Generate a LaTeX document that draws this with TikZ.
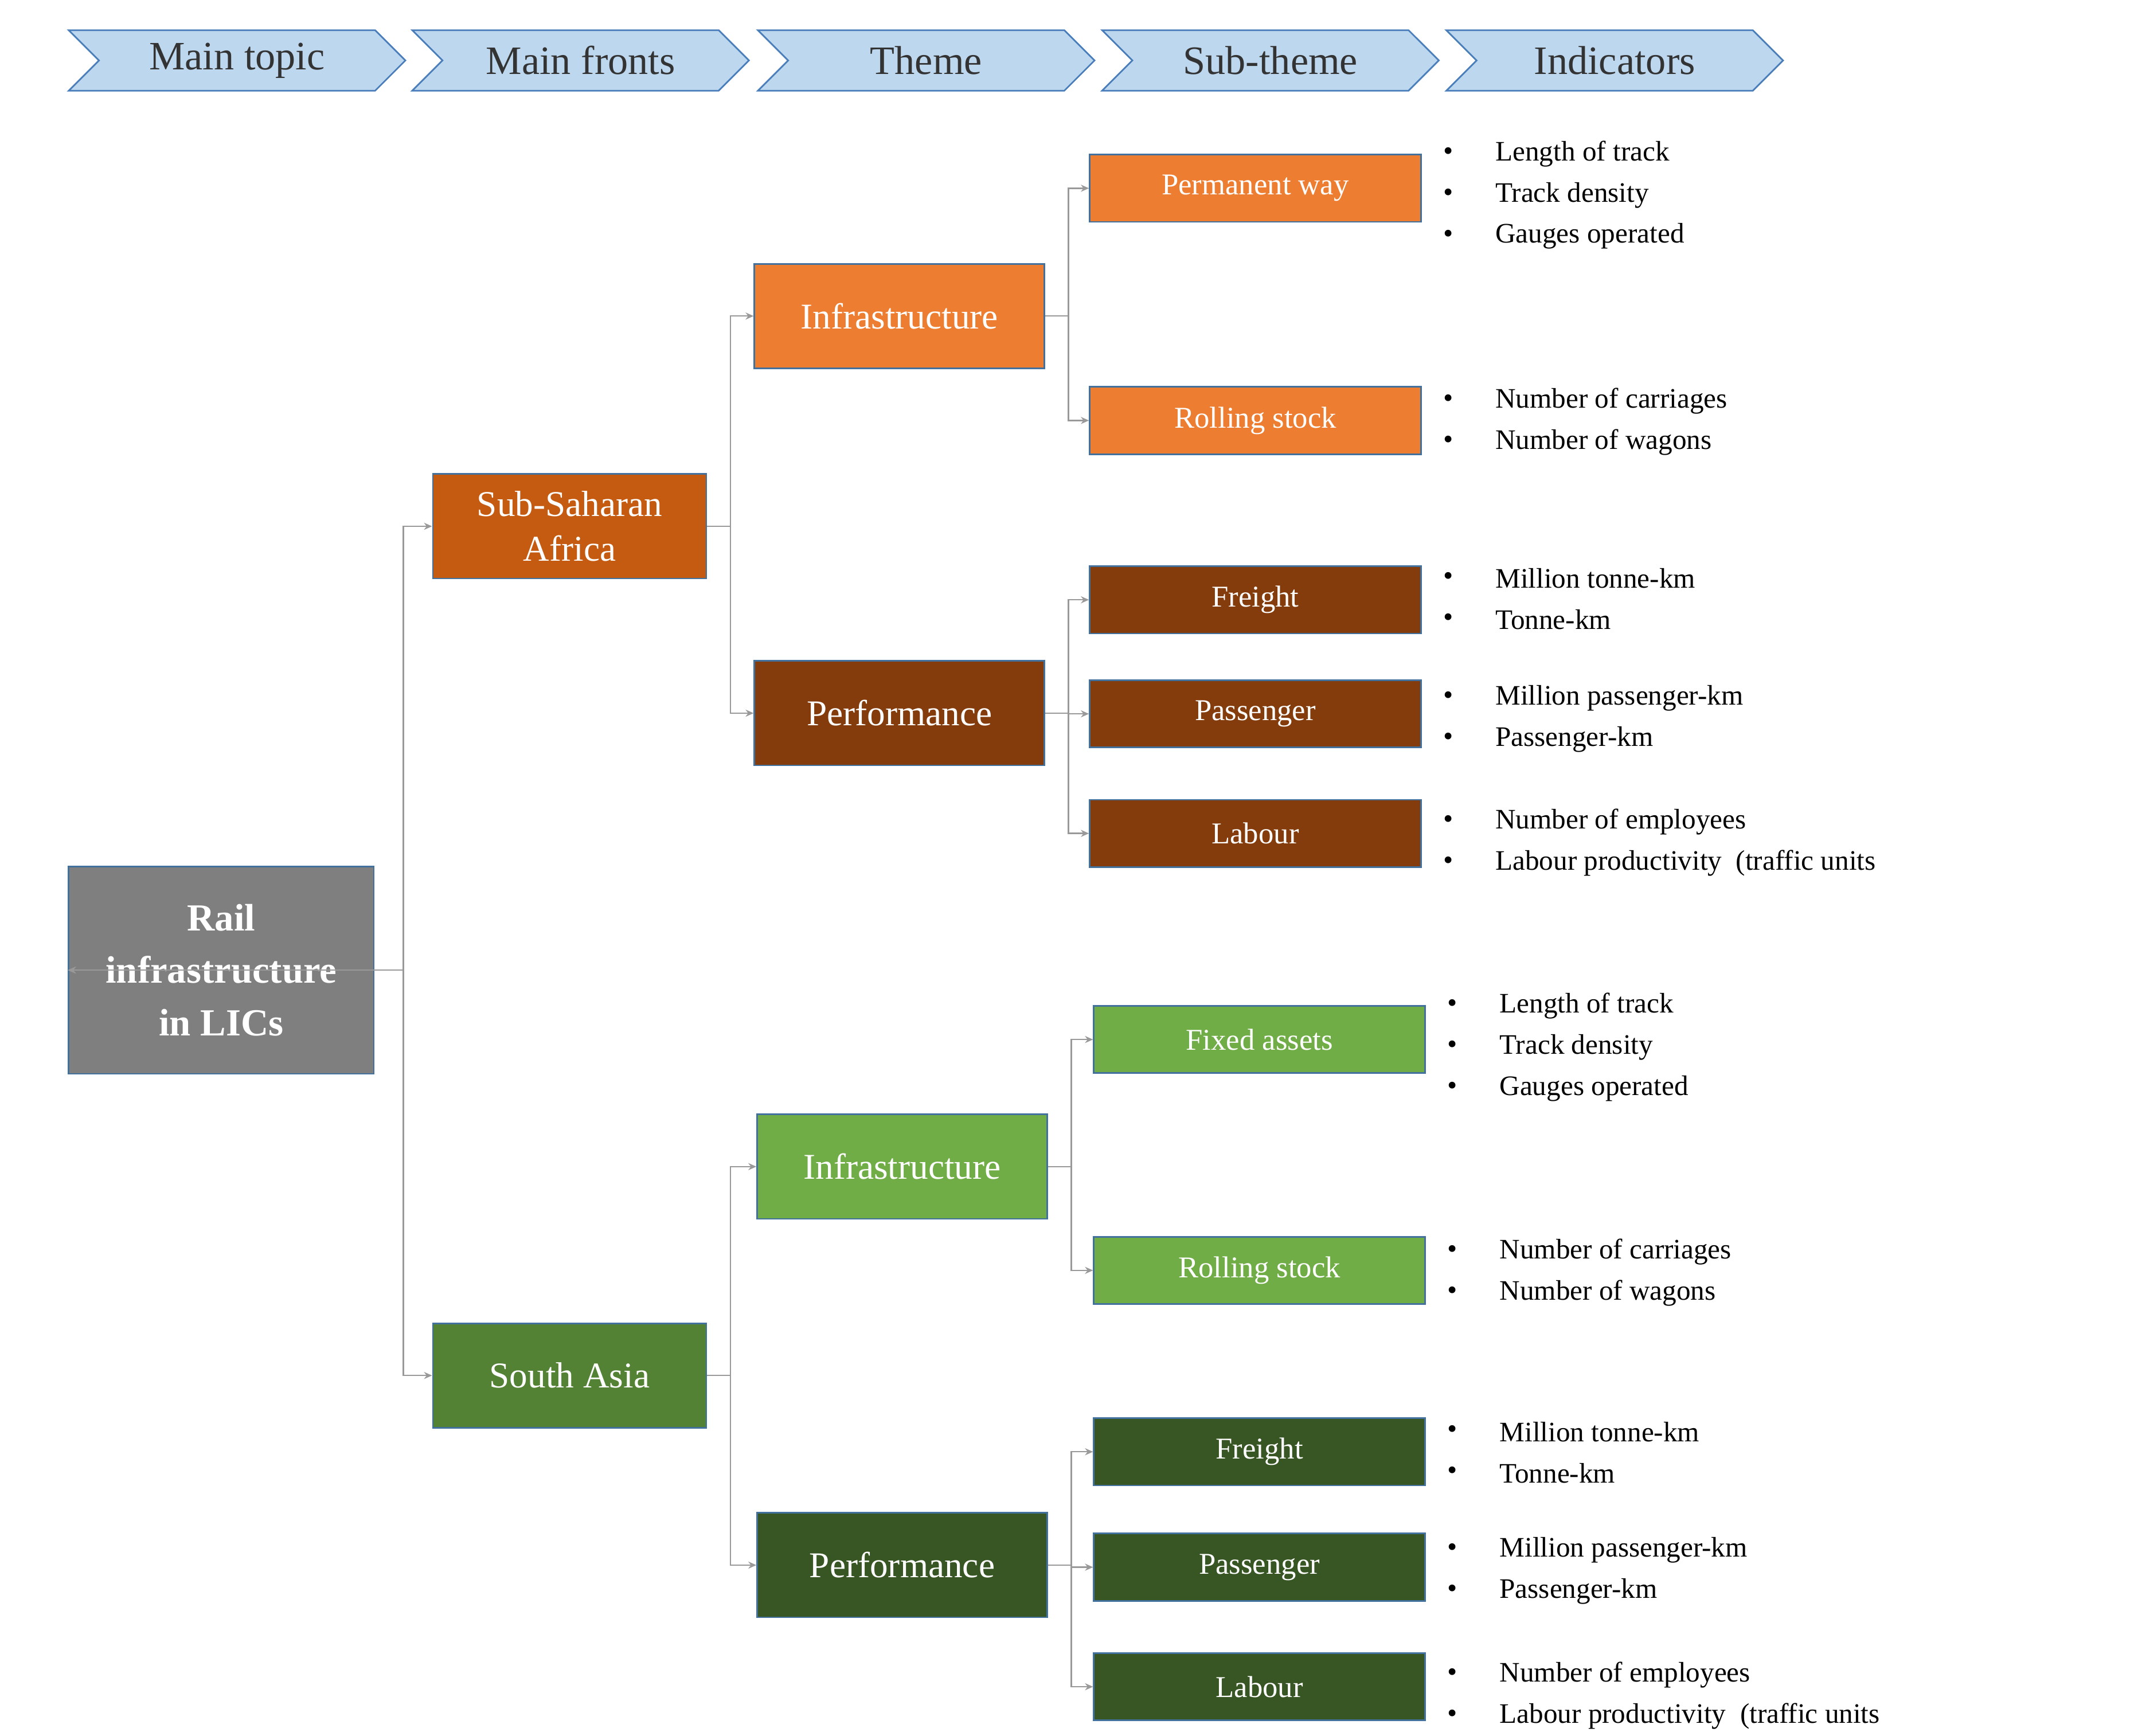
\documentclass[tikz,border=0pt]{standalone}
\usepackage{fontspec}
\setmainfont{Liberation Serif}
\usetikzlibrary{shapes.symbols,arrows.meta}
\definecolor{hdr}{HTML}{BDD7EE}\definecolor{hdrb}{HTML}{4A7EBB}
\definecolor{bord}{HTML}{41719C}
\definecolor{gry}{HTML}{7F7F7F}
\definecolor{ssa}{HTML}{C55A11}\definecolor{sa}{HTML}{548235}
\definecolor{or}{HTML}{ED7D31}\definecolor{br}{HTML}{843C0C}
\definecolor{lg}{HTML}{70AD47}\definecolor{dg}{HTML}{375623}
\begin{document}
\begin{tikzpicture}[x=0.02397cm,y=-0.02397cm,
 hd/.style={signal,signal to=east,signal from=west,draw=hdrb,fill=hdr,line width=0.8pt,minimum width=245*0.02397cm,minimum height=44*0.02397cm,inner sep=0pt,font=\fontsize{20}{22}\selectfont,text=black!80},
 bx/.style={draw=bord,line width=0.8pt,text=white,inner sep=0pt,align=center,font=\fontsize{18}{22}\selectfont},
 big/.style={bx,minimum width=211*0.02397cm,minimum height=76*0.02397cm},
 sub/.style={bx,minimum width=241*0.02397cm,minimum height=49*0.02397cm,font=\fontsize{15}{18}\selectfont},
 ln/.style={draw=gray!80,line width=0.7pt,-{Stealth[length=4pt,width=3.5pt]}},
 it/.style={anchor=west,inner sep=0pt,font=\fontsize{14}{16}\selectfont}]
\useasboundingbox (0,0) rectangle (1550,1263);
\node[hd] (h1) at (172.5,44) {Main topic};
\node[hd] (h2) at (422.5,44) {Main fronts};
\node[hd] (h3) at (674,44) {Theme};
\node[hd] (h4) at (924.5,44) {Sub-theme};
\node[hd] (h5) at (1175,44) {Indicators};
\node[bx,fill=gry,minimum width=222*0.02397cm,minimum height=151*0.02397cm,font=\fontsize{19}{26}\selectfont\bfseries] (root) at (161,706) {Rail\\infrastructure\\in LICs};
\node[bx,fill=ssa,minimum width=199*0.02397cm,minimum height=76*0.02397cm] (ssa) at (414.5,383) {Sub-Saharan\\Africa};
\node[bx,fill=sa,minimum width=199*0.02397cm,minimum height=76*0.02397cm] (sa) at (414.5,1001) {South Asia};
\node[big,fill=or] (i1) at (654.5,230) {Infrastructure};
\node[big,fill=br] (p1) at (654.5,519) {Performance};
\node[big,fill=lg] (i2) at (656.5,849) {Infrastructure};
\node[big,fill=dg] (p2) at (656.5,1139) {Performance};
\node[sub,fill=or] (s1) at (913.5,137) {Permanent way};
\node[sub,fill=or] (s2) at (913.5,306) {Rolling stock};
\node[sub,fill=br] (s3) at (913.5,436.5) {Freight};
\node[sub,fill=br] (s4) at (913.5,519.5) {Passenger};
\node[sub,fill=br] (s5) at (913.5,606.5) {Labour};
\node[sub,fill=lg] (t1) at (916.5,756.5) {Fixed assets};
\node[sub,fill=lg] (t2) at (916.5,924.5) {Rolling stock};
\node[sub,fill=dg] (t3) at (916.5,1056.5) {Freight};
\node[sub,fill=dg] (t4) at (916.5,1140.5) {Passenger};
\node[sub,fill=dg] (t5) at (916.5,1227.5) {Labour};
\foreach \a/\b in {ssa/root,sa/root}{\draw[ln] (root.east) -- ++(21,0) |- (\b.west);}
\draw[ln] (root.east) -- ++(21,0) |- (ssa.west);
\draw[ln] (root.east) -- ++(21,0) |- (sa.west);
\foreach \p/\c in {ssa/i1,ssa/p1,sa/i2,sa/p2,i1/s1,i1/s2,p1/s3,p1/s4,p1/s5,i2/t1,i2/t2,p2/t3,p2/t4,p2/t5}
  {\draw[ln] (\p.east) -- ++(17,0) |- (\c.west);}
\foreach \y/\t [count=\n] in {112/Length of track,142/Track density,172/Gauges operated,292/Number of carriages,322/Number of wagons,421/Million tonne-km,451/Tonne-km/route-km,508/Million passenger-km,538/Passenger-km/route-km,598/Number of employees,628/Labour productivity \ (traffic units/employees)}
  {\node[it] (b\n) at (1050,\y) {•}; \node[it] (x\n) at (1088,\y) {\t};}
\foreach \y/\t [count=\n] in {732/Length of track,762/Track density,792/Gauges operated,911/Number of carriages,941/Number of wagons,1042/Million tonne-km,1072/Tonne-km/route-km,1128/Million passenger-km,1158/Passenger-km/route-km,1219/Number of employees,1249/Labour productivity \ (traffic units/employees)}
  {\node[it] (c\n) at (1053,\y) {•}; \node[it] (y\n) at (1091,\y) {\t};}
\end{tikzpicture}
\end{document}
